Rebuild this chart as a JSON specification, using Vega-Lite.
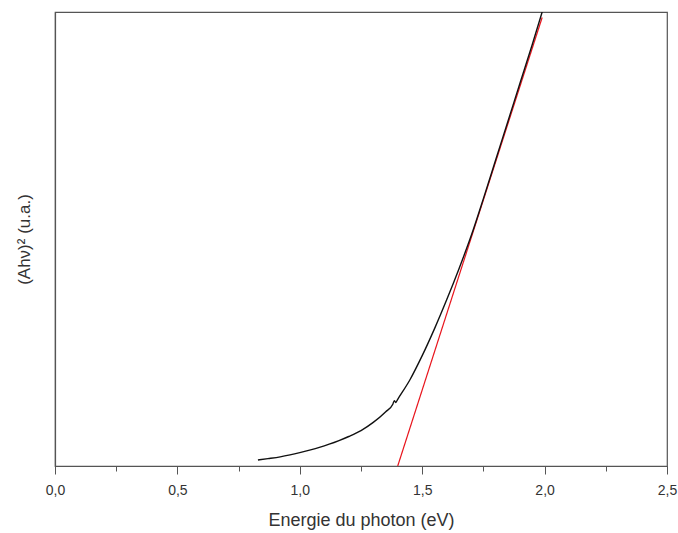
{
  "$schema": "https://vega.github.io/schema/vega-lite/v6.json",
  "autosize": "none",
  "width": 612,
  "height": 454,
  "padding": {"left": 55, "top": 12, "right": 11, "bottom": 67},
  "background": "white",
  "config": {
    "view": {"stroke": "#555555", "strokeWidth": 1.2},
    "font": "Liberation Sans"
  },
  "datasets": {
    "curve": [
      {"E": 0.829, "y": 1.32},
      {"E": 0.87, "y": 1.62},
      {"E": 0.92, "y": 2.02},
      {"E": 0.96, "y": 2.45},
      {"E": 1.0, "y": 2.95},
      {"E": 1.04, "y": 3.5},
      {"E": 1.08, "y": 4.1},
      {"E": 1.12, "y": 4.8},
      {"E": 1.16, "y": 5.6},
      {"E": 1.2, "y": 6.5},
      {"E": 1.25, "y": 7.8},
      {"E": 1.3, "y": 9.6},
      {"E": 1.35, "y": 11.9},
      {"E": 1.38, "y": 13.6},
      {"E": 1.386, "y": 14.4},
      {"E": 1.392, "y": 14.0},
      {"E": 1.40, "y": 14.7},
      {"E": 1.45, "y": 19.0},
      {"E": 1.50, "y": 24.3},
      {"E": 1.55, "y": 30.2},
      {"E": 1.60, "y": 36.6},
      {"E": 1.65, "y": 43.4},
      {"E": 1.70, "y": 50.7},
      {"E": 1.75, "y": 58.9},
      {"E": 1.80, "y": 67.4},
      {"E": 1.85, "y": 75.9},
      {"E": 1.90, "y": 84.4},
      {"E": 1.95, "y": 92.9},
      {"E": 1.99, "y": 100}
    ],
    "fit": [
      {"E": 1.4, "y": 0},
      {"E": 1.99, "y": 98.8}
    ]
  },
  "encoding": {
    "x": {
      "field": "E",
      "type": "quantitative",
      "scale": {"domain": [0, 2.5], "nice": false, "zero": false},
      "axis": {
        "title": "Energie du photon (eV)",
        "values": [0, 0.25, 0.5, 0.75, 1, 1.25, 1.5, 1.75, 2, 2.25, 2.5],
        "labelExpr": "(datum.value * 4) % 2 === 0 ? replace(format(datum.value, '.1f'), '.', ',') : ''",
        "grid": false,
        "domainColor": "#555555",
        "domainWidth": 1.2,
        "tickColor": "#555555",
        "tickWidth": 1,
        "tickSize": {"condition": {"test": "(datum.value * 4) % 2 !== 0", "value": 5}, "value": 8},
        "labelFontSize": 14,
        "labelColor": "#333333",
        "labelPadding": 9,
        "labelFlush": false,
        "titleFontSize": 18,
        "titleFontWeight": "normal",
        "titleColor": "#333333",
        "titlePadding": 14
      }
    },
    "y": {
      "field": "y",
      "type": "quantitative",
      "scale": {"domain": [0, 100], "nice": false},
      "axis": {
        "title": "(Ahν)² (u.a.)",
        "labels": false,
        "ticks": false,
        "grid": false,
        "domainColor": "#555555",
        "domainWidth": 1.2,
        "titleFontSize": 17,
        "titleFontWeight": "normal",
        "titleColor": "#333333",
        "titlePadding": 22
      }
    }
  },
  "layer": [
    {
      "data": {"name": "fit"},
      "mark": {"type": "line", "color": "#e8141c", "strokeWidth": 1.2, "clip": true}
    },
    {
      "data": {"name": "curve"},
      "mark": {"type": "line", "color": "#111111", "strokeWidth": 1.4, "clip": true, "interpolate": "monotone"}
    }
  ]
}
